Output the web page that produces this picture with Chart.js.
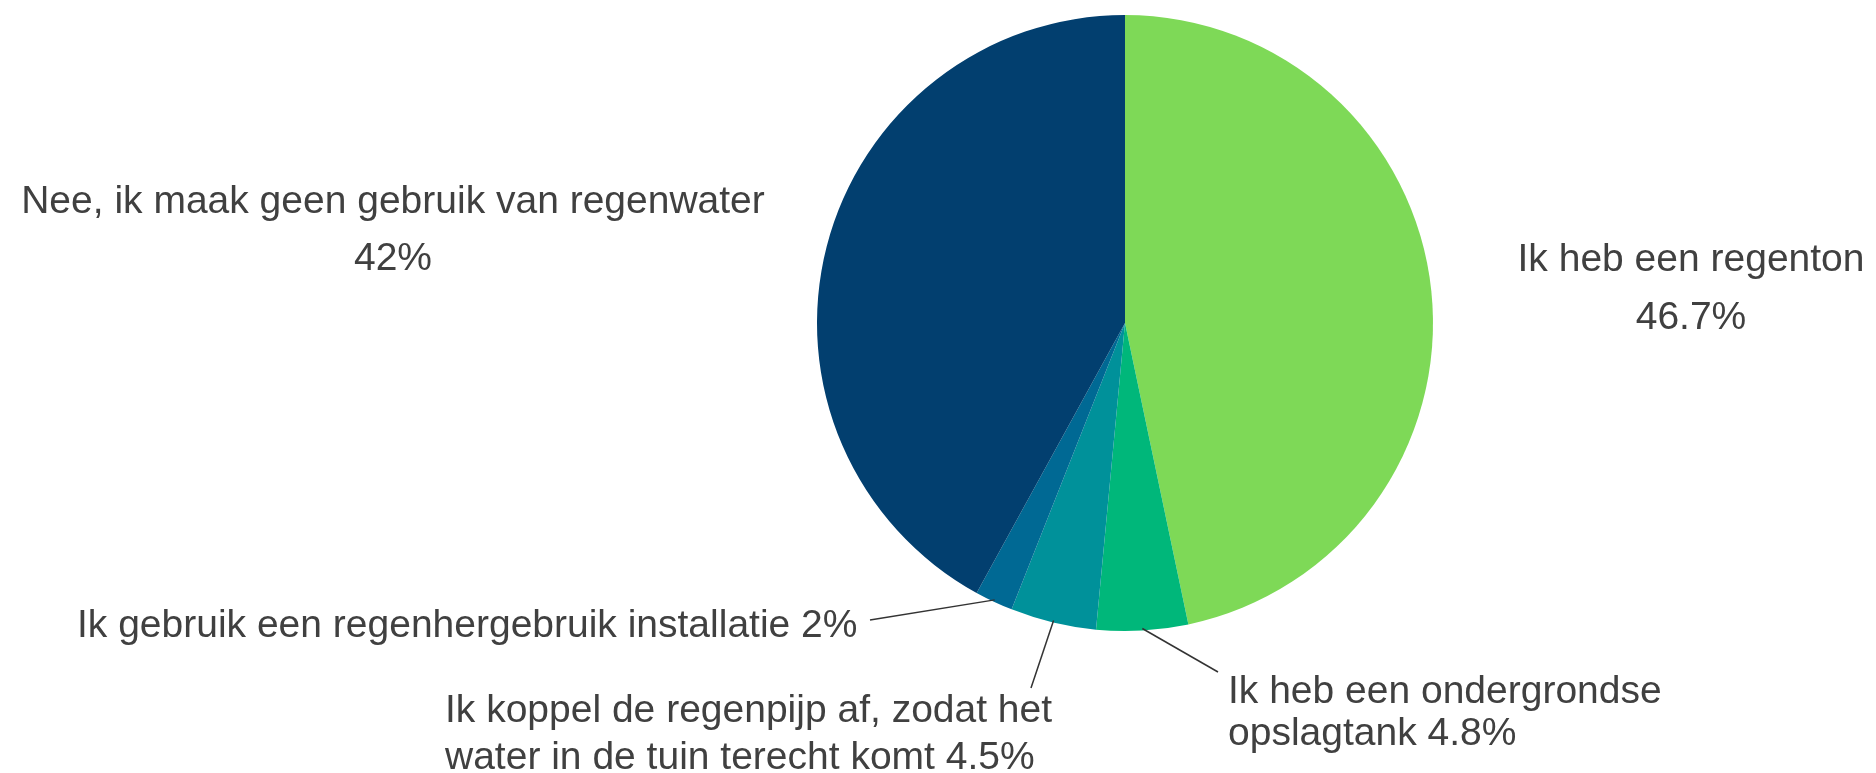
<!DOCTYPE html>
<html>
<head>
<meta charset="utf-8">
<script src="https://cdn.jsdelivr.net/npm/chart.js@4"></script>
<style>
  html, body { margin: 0; padding: 0; background: #fff; }
  #wrap { width: 1876px; height: 773px; }
</style>
</head>
<body>
<div id="wrap"><canvas id="chartRegenwater"></canvas></div>
<script>
// --- DATA ---
const categories = [
    'Ik heb een regenton',
    'Ik heb een ondergrondse opslagtank',
    'Ik koppel de regenpijp af, zodat het water in de tuin terecht komt',
    'Ik gebruik een regenhergebruik installatie',
    'Nee, ik maak geen gebruik van regenwater'
];
const percentages = [46.7, 4.8, 4.5, 2, 42];
const sliceColors = ['#7ED957', '#00B77A', '#00919A', '#006994', '#023F6F'];

// label placement relative to the pie centre (style only)
const labelStyle = [
    { dx: 566,   dy: -52, align: 'center', lineH: 58, valueOwnLine: true },
    { dx: 103,   dy: 380, align: 'left',   lineH: 42, maxW: 460, leader: [93, 349] },
    { dx: -680,  dy: 399, align: 'left',   lineH: 47, maxW: 640, leader: [-94, 365] },
    { dx: -1048, dy: 314, align: 'left',   lineH: 41, leader: [-255, 297] },
    { dx: -732,  dy: -110, align: 'center', lineH: 57, valueOwnLine: true }
];

const FONT = '39px "Liberation Sans", Arial, sans-serif';

function wrapText(ctx, text, maxW) {
    if (!maxW) return [text];
    const words = text.split(' ');
    const lines = [];
    let cur = '';
    words.forEach(w => {
        const test = cur ? cur + ' ' + w : w;
        if (ctx.measureText(test).width > maxW && cur) {
            lines.push(cur);
            cur = w;
        } else {
            cur = test;
        }
    });
    if (cur) lines.push(cur);
    return lines;
}

const sliceLabels = {
    id: 'sliceLabels',
    afterDraw(chart) {
        const ctx = chart.ctx;
        const meta = chart.getDatasetMeta(0);
        ctx.save();
        ctx.font = FONT;
        ctx.fillStyle = '#404040';
        ctx.textBaseline = 'alphabetic';
        meta.data.forEach((arc, i) => {
            const p = arc.getProps(['x', 'y', 'startAngle', 'endAngle', 'outerRadius'], true);
            const st = labelStyle[i];
            const val = percentages[i] + '%';
            let lines;
            if (st.valueOwnLine) {
                lines = [categories[i], val];
            } else {
                lines = wrapText(ctx, categories[i] + ' ' + val, st.maxW);
            }
            ctx.textAlign = st.align;
            lines.forEach((ln, k) => {
                ctx.fillText(ln, p.x + st.dx, p.y + st.dy + k * st.lineH);
            });
            if (st.leader) {
                const mid = (p.startAngle + p.endAngle) / 2;
                ctx.beginPath();
                ctx.strokeStyle = '#333333';
                ctx.lineWidth = 1.5;
                ctx.moveTo(p.x + Math.cos(mid) * (p.outerRadius - 2), p.y + Math.sin(mid) * (p.outerRadius - 2));
                ctx.lineTo(p.x + st.leader[0], p.y + st.leader[1]);
                ctx.stroke();
            }
        });
        ctx.restore();
    }
};

const ctx = document.getElementById('chartRegenwater');
new Chart(ctx, {
    type: 'pie',
    data: {
        labels: categories,
        datasets: [{
            data: percentages,
            backgroundColor: sliceColors,
            borderWidth: 0
        }]
    },
    options: {
        responsive: true,
        maintainAspectRatio: false,
        animation: false,
        layout: { padding: { top: 15, bottom: 142, left: 817, right: 443 } },
        plugins: {
            legend: { display: false },
            tooltip: { enabled: false }
        }
    },
    plugins: [sliceLabels]
});
</script>
</body>
</html>
